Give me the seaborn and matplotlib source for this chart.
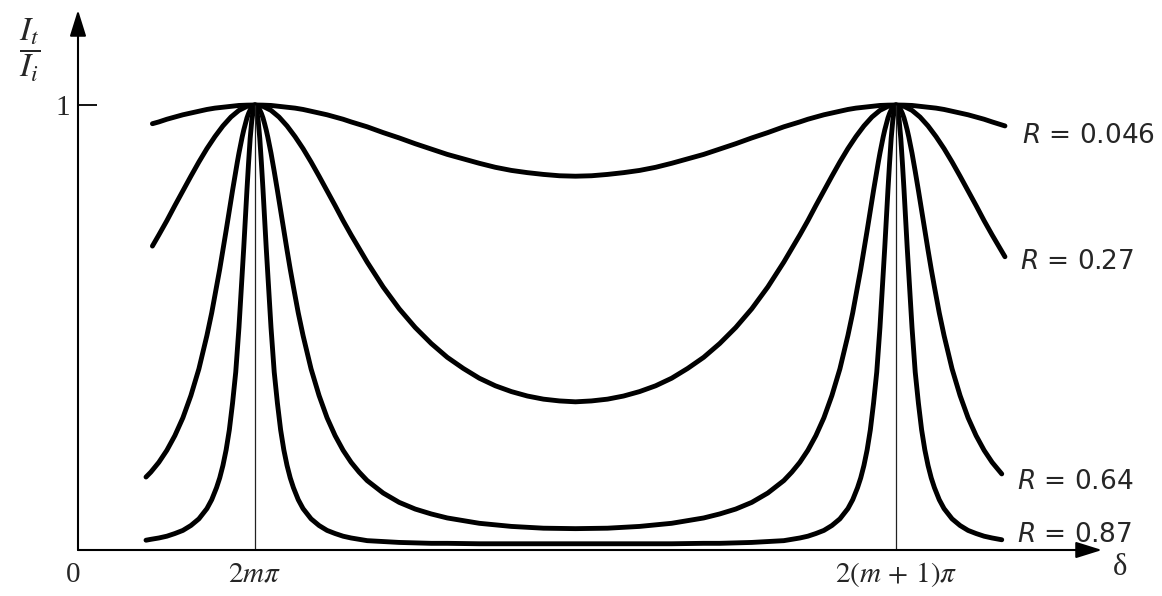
import matplotlib
matplotlib.use("Agg")
import matplotlib.pyplot as plt
import pandas as pd
import seaborn as sns

# Phase measured from 2m*pi, in units of one free spectral range (2*pi)
x_wide = [-0.16, -0.15, -0.1375, -0.125, -0.1125, -0.1, -0.0875, -0.075, -0.0625,
          -0.05, -0.0375, -0.025, -0.0125,
          0.0,
          0.0125, 0.025, 0.0375, 0.05, 0.0625, 0.075, 0.0875, 0.1, 0.1125, 0.125,
          0.1375, 0.15,
          0.175, 0.2, 0.225, 0.25, 0.275, 0.3, 0.325, 0.35, 0.375, 0.4, 0.425,
          0.45, 0.475, 0.5, 0.525, 0.55, 0.575, 0.6, 0.625, 0.65, 0.675, 0.7,
          0.725, 0.75, 0.775, 0.8, 0.825,
          0.85, 0.8625, 0.875, 0.8875, 0.9, 0.9125, 0.925, 0.9375, 0.95, 0.9625,
          0.975, 0.9875,
          1.0,
          1.0125, 1.025, 1.0375, 1.05, 1.0625, 1.075, 1.0875, 1.1, 1.1125, 1.125,
          1.1375, 1.15,
          1.17]

x_sharp = [-0.17, -0.1625, -0.15, -0.1375, -0.125, -0.1125, -0.1, -0.0875, -0.075,
           -0.0675, -0.06, -0.055, -0.05, -0.045, -0.04, -0.035, -0.03, -0.0275,
           -0.025, -0.0225, -0.02, -0.0175, -0.015, -0.0125, -0.01, -0.0075,
           -0.005, -0.0025,
           0.0,
           0.0025, 0.005, 0.0075, 0.01, 0.0125, 0.015, 0.0175, 0.02, 0.0225, 0.025,
           0.0275, 0.03, 0.035, 0.04, 0.045, 0.05, 0.055, 0.06, 0.0675, 0.075,
           0.0875, 0.1, 0.1125, 0.125, 0.1375, 0.15, 0.1625,
           0.175, 0.2, 0.225, 0.25, 0.275, 0.3, 0.35, 0.4, 0.45, 0.5, 0.55, 0.6,
           0.65, 0.7, 0.725, 0.75, 0.775, 0.8, 0.825,
           0.8375, 0.85, 0.8625, 0.875, 0.8875, 0.9, 0.9125, 0.925, 0.9325, 0.94,
           0.945, 0.95, 0.955, 0.96, 0.965, 0.97, 0.9725, 0.975, 0.9775, 0.98,
           0.9825, 0.985, 0.9875, 0.99, 0.9925, 0.995, 0.9975,
           1.0,
           1.0025, 1.005, 1.0075, 1.01, 1.0125, 1.015, 1.0175, 1.02, 1.0225, 1.025,
           1.0275, 1.03, 1.035, 1.04, 1.045, 1.05, 1.055, 1.06, 1.0675, 1.075,
           1.0875, 1.1, 1.1125, 1.125, 1.1375, 1.15,
           1.165]

# Transmitted / incident intensity for each mirror reflectance
t_046 = [0.958, 0.962, 0.968, 0.973, 0.978, 0.982, 0.986, 0.990, 0.993, 0.995,
         0.997, 0.999, 0.9997,
         1.0,
         0.9997, 0.999, 0.997, 0.995, 0.993, 0.990, 0.986, 0.982, 0.978, 0.973,
         0.968, 0.962,
         0.951, 0.938, 0.926, 0.913, 0.901, 0.889, 0.879, 0.869, 0.860, 0.853,
         0.848, 0.844, 0.841, 0.840, 0.841, 0.844, 0.848, 0.853, 0.860, 0.869,
         0.879, 0.889, 0.901, 0.913, 0.926, 0.938, 0.951,
         0.962, 0.968, 0.973, 0.978, 0.982, 0.986, 0.990, 0.993, 0.995, 0.997,
         0.999, 0.9997,
         1.0,
         0.9997, 0.999, 0.997, 0.995, 0.993, 0.990, 0.986, 0.982, 0.978, 0.973,
         0.968, 0.962,
         0.953]

t_027 = [0.683, 0.708, 0.740, 0.774, 0.807, 0.840, 0.872, 0.902, 0.929, 0.953,
         0.973, 0.988, 0.997,
         1.0,
         0.997, 0.988, 0.973, 0.953, 0.929, 0.902, 0.872, 0.840, 0.807, 0.774,
         0.740, 0.708,
         0.647, 0.591, 0.542, 0.500, 0.464, 0.433, 0.408, 0.386, 0.369, 0.356,
         0.346, 0.339, 0.335, 0.333, 0.335, 0.339, 0.346, 0.356, 0.369, 0.386,
         0.408, 0.433, 0.464, 0.500, 0.542, 0.591, 0.647,
         0.708, 0.740, 0.774, 0.807, 0.840, 0.872, 0.902, 0.929, 0.953, 0.973,
         0.988, 0.997,
         1.0,
         0.997, 0.988, 0.973, 0.953, 0.929, 0.902, 0.872, 0.840, 0.807, 0.774,
         0.740, 0.708,
         0.659]

t_064 = [0.164, 0.175, 0.197, 0.224, 0.257, 0.297, 0.347, 0.407, 0.482, 0.533,
         0.591, 0.631, 0.674, 0.718, 0.763, 0.808, 0.851, 0.872, 0.892, 0.910,
         0.928, 0.944, 0.958, 0.971, 0.981, 0.989, 0.995, 0.999,
         1.0,
         0.999, 0.995, 0.989, 0.981, 0.971, 0.958, 0.944, 0.928, 0.910, 0.892,
         0.872, 0.851, 0.808, 0.763, 0.718, 0.674, 0.631, 0.591, 0.533, 0.482,
         0.407, 0.347, 0.297, 0.257, 0.224, 0.197, 0.175,
         0.156, 0.128, 0.107, 0.092, 0.081, 0.072, 0.060, 0.053, 0.049, 0.048,
         0.049, 0.053, 0.060, 0.072, 0.081, 0.092, 0.107, 0.128, 0.156,
         0.175, 0.197, 0.224, 0.257, 0.297, 0.347, 0.407, 0.482, 0.533, 0.591,
         0.631, 0.674, 0.718, 0.763, 0.808, 0.851, 0.872, 0.892, 0.910, 0.928,
         0.944, 0.958, 0.971, 0.981, 0.989, 0.995, 0.999,
         1.0,
         0.999, 0.995, 0.989, 0.981, 0.971, 0.958, 0.944, 0.928, 0.910, 0.892,
         0.872, 0.851, 0.808, 0.763, 0.718, 0.674, 0.631, 0.591, 0.533, 0.482,
         0.407, 0.347, 0.297, 0.257, 0.224, 0.197,
         0.171]

t_087 = [0.022, 0.024, 0.027, 0.031, 0.037, 0.044, 0.055, 0.070, 0.093, 0.113,
         0.14, 0.162, 0.19, 0.225, 0.27, 0.33, 0.40, 0.45, 0.50, 0.56,
         0.62, 0.68, 0.745, 0.81, 0.87, 0.925, 0.965, 0.99,
         1.0,
         0.99, 0.965, 0.925, 0.87, 0.81, 0.745, 0.68, 0.62, 0.56, 0.50,
         0.45, 0.40, 0.33, 0.27, 0.225, 0.19, 0.162, 0.14, 0.113, 0.093,
         0.070, 0.055, 0.044, 0.037, 0.031, 0.027, 0.024,
         0.021, 0.019, 0.017, 0.016, 0.015, 0.015, 0.014, 0.014, 0.014, 0.014,
         0.014, 0.014, 0.014, 0.015, 0.015, 0.016, 0.017, 0.019, 0.021,
         0.024, 0.027, 0.031, 0.037, 0.044, 0.055, 0.070, 0.093, 0.113, 0.14,
         0.162, 0.19, 0.225, 0.27, 0.33, 0.40, 0.45, 0.50, 0.56, 0.62,
         0.68, 0.745, 0.81, 0.87, 0.925, 0.965, 0.99,
         1.0,
         0.99, 0.965, 0.925, 0.87, 0.81, 0.745, 0.68, 0.62, 0.56, 0.50,
         0.45, 0.40, 0.33, 0.27, 0.225, 0.19, 0.162, 0.14, 0.113, 0.093,
         0.070, 0.055, 0.044, 0.037, 0.031, 0.027,
         0.023]

reflectances = [0.046, 0.27, 0.64, 0.87]
orders = [0.0, 1.0]
order_labels = [r"$2m\pi$", r"$2(m\,+\,1)\pi$"]

frames = []
for r, xs, ts in zip(reflectances, [x_wide, x_wide, x_sharp, x_sharp],
                     [t_046, t_027, t_064, t_087]):
    frames.append(pd.DataFrame({"delta": xs, "T": ts, "R": r}))
df = pd.concat(frames, ignore_index=True)

sns.set_theme(style="white")
plt.rcParams["font.family"] = ["DejaVu Sans"]
plt.rcParams["mathtext.fontset"] = "stix"

W, H = 1162, 596
fig = plt.figure(figsize=(W / 100, H / 100), dpi=100)
fig.patch.set_facecolor("white")
ax = fig.add_axes([78 / W, 46 / H, 1024 / W, 540 / H])
ax.set_facecolor("white")

sns.lineplot(data=df, x="delta", y="T", hue="R",
             palette={r: "black" for r in reflectances},
             estimator=None, sort=True, legend=False, ax=ax,
             lw=3.5, solid_capstyle="round", solid_joinstyle="round")

ax.set_xlim(-0.2761, 1.3214)
ax.set_ylim(0, 1.2135)
for s in ax.spines.values():
    s.set_visible(False)

# axes drawn as arrows
arrow = dict(arrowstyle="-|>,head_length=0.8,head_width=0.25", lw=1.5,
             color="black", mutation_scale=20, shrinkA=0, shrinkB=0)
ax.annotate("", xy=(1, 0), xytext=(0, 0), xycoords="axes fraction",
            textcoords="axes fraction", arrowprops=arrow)
ax.annotate("", xy=(0, 1), xytext=(0, 0), xycoords="axes fraction",
            textcoords="axes fraction", arrowprops=arrow)

# thin markers at the transmission maxima
ax.vlines(orders, 0, 1, colors="#222222", lw=0.9)

ax.set_yticks([1])
ax.set_yticklabels(["1"], fontfamily="Liberation Serif")
ax.tick_params(axis="y", direction="in", length=14, width=1.3,
               labelsize=21, pad=6, left=True, color="black")
ax.set_xticks(orders)
ax.set_xticklabels(order_labels)
ax.tick_params(axis="x", length=0, labelsize=21, pad=7)
ax.set_xlabel("")
ax.set_ylabel("")

ax.text(-0.284, -0.057, "0", ha="center", va="center", fontsize=21,
        family="Liberation Serif", clip_on=False)
ax.text(1.349, -0.040, "δ", ha="center", va="center", fontsize=22,
        family=["Liberation Serif", "DejaVu Serif"], clip_on=False)

label_xy = [(1.197, 0.930), (1.193, 0.647), (1.189, 0.153), (1.189, 0.034)]
for r, (lx, ly) in zip(reflectances, label_xy):
    ax.text(lx, ly, f"$R$ = {r:g}", ha="left", va="center", fontsize=19,
            family="DejaVu Sans", math_fontfamily="dejavusans", clip_on=False)

fig.text(30 / W, 1 - 50 / H, r"$\dfrac{I_t}{I_i}$", ha="center", va="center",
         fontsize=24)

fig.savefig("out.png", dpi=100, facecolor="white")
